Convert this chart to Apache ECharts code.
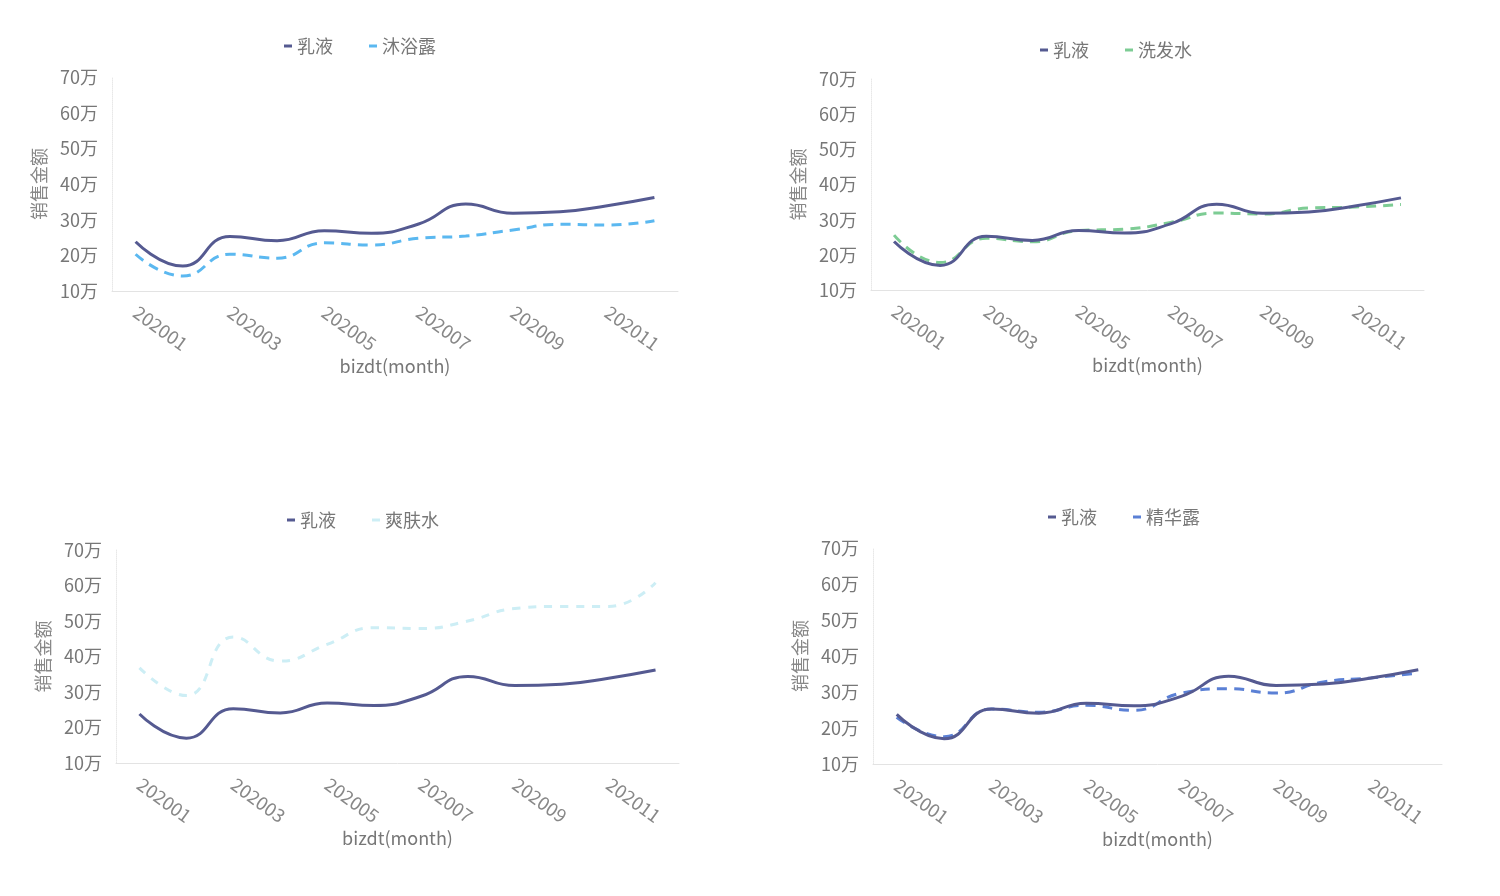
<!DOCTYPE html>
<html>
<head>
<meta charset="utf-8">
<script src="https://cdn.jsdelivr.net/npm/echarts@6/dist/echarts.min.js"></script>
<style>
html,body{margin:0;padding:0;background:#fff;}
#c{width:1500px;height:896px;}
</style>
</head>
<body>
<div id="c"></div>
<script>
// Data (values in 万)
const months = ['202001','202002','202003','202004','202005','202006','202007','202008','202009','202010','202011','202012'];
const yTicks = [10, 20, 30, 40, 50, 60, 70];
const ruye   = [23.8, 17.0, 25.3, 24.1, 26.9, 26.2, 28.8, 34.4, 31.8, 32.2, 33.9, 36.2];
const muyulu = [20.3, 14.2, 20.3, 19.2, 23.5, 22.9, 24.8, 25.4, 27.1, 28.7, 28.5, 29.7];
const xifashui = [25.6, 17.8, 24.7, 23.7, 26.9, 27.3, 29.2, 31.9, 31.6, 33.3, 33.6, 34.3];
const shuangfushui = [36.8, 29.0, 45.5, 38.7, 43.4, 48.1, 47.9, 50.0, 53.5, 54.1, 54.1, 60.8];
const jinghualu = [23.0, 17.6, 25.3, 24.4, 26.3, 24.9, 29.7, 30.9, 29.7, 32.8, 33.9, 35.3];

const panels = [
  {name:'沐浴露', data:muyulu, color:'#5bb8f0', dash:[10,7], width:3,
   grid:{left:112, top:77, width:566, height:214}, legend:{left:279, top:32}},
  {name:'洗发水', data:xifashui, color:'#7dcc94', dash:[10,7], width:3,
   grid:{left:871, top:79, width:553, height:211}, legend:{left:1035, top:36}},
  {name:'爽肤水', data:shuangfushui, color:'#cdeef5', dash:[8,8], width:3,
   grid:{left:116, top:550, width:563, height:213}, legend:{left:282, top:506}},
  {name:'精华露', data:jinghualu, color:'#5b80d5', dash:[10,7], width:3,
   grid:{left:873, top:548, width:569, height:216}, legend:{left:1043, top:503}}
];
const ruyeColor = '#555a91';
const font = '"Noto Sans CJK SC", "Noto Sans", sans-serif';

const option = {
  animation:false,
  backgroundColor:'#fff',
  grid:[], xAxis:[], yAxis:[], legend:[], series:[]
};
panels.forEach((p,i)=>{
  option.grid.push(Object.assign({containLabel:false}, p.grid));
  option.xAxis.push({
    type:'category', gridIndex:i, data:months, boundaryGap:true,
    name:'bizdt(month)', nameLocation:'middle', nameGap:66,
    nameTextStyle:{color:'#777', fontSize:18, fontFamily:font},
    axisLine:{lineStyle:{color:'#e3e3e3', width:1}},
    axisTick:{show:false},
    axisLabel:{interval:1, rotate:-36, color:'#888', fontSize:18.5, fontFamily:font, margin:19}
  });
  option.yAxis.push({
    type:'value', gridIndex:i, min:yTicks[0], max:yTicks[yTicks.length-1], interval:10,
    name:'销售金额', nameLocation:'middle', nameGap:64,
    nameTextStyle:{color:'#888', fontSize:18, fontFamily:font},
    axisLine:{show:true, lineStyle:{color:'#e8e8e8', width:1, type:'dotted'}},
    axisTick:{show:false}, splitLine:{show:false},
    axisLabel:{color:'#777', fontSize:18, fontFamily:font, margin:14, formatter:v=>v+'万'}
  });
  option.legend.push({
    left:p.legend.left, top:p.legend.top, icon:'rect', itemWidth:8, itemHeight:3, itemGap:36,
    textStyle:{color:'#777', fontSize:18, fontFamily:font},
    data:[{name:'乳液'+'\u200b'.repeat(i)}, {name:p.name}],
    formatter:n=>n.replace(/\u200b/g,'')
  });
  option.series.push({
    type:'line', name:'乳液'+'\u200b'.repeat(i), xAxisIndex:i, yAxisIndex:i, data:ruye,
    smooth:0.5, showSymbol:false, symbol:'none', color:ruyeColor,
    lineStyle:{color:ruyeColor, width:3}, z:3
  });
  option.series.push({
    type:'line', name:p.name, xAxisIndex:i, yAxisIndex:i, data:p.data,
    smooth:0.5, showSymbol:false, symbol:'none', color:p.color,
    lineStyle:{color:p.color, width:p.width, type:p.dash}, z:2
  });
});
const chart = echarts.init(document.getElementById('c'), null, {renderer:'canvas'});
chart.setOption(option);
</script>
</body>
</html>
